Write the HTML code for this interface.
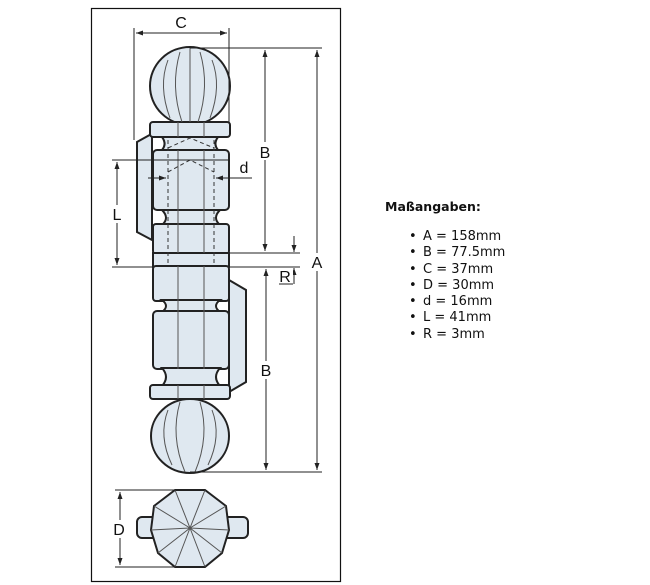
<!DOCTYPE html>
<html><head><meta charset="utf-8"><style>
body{margin:0;width:650px;height:585px;background:#fff;overflow:hidden;position:relative;font-family:"DejaVu Sans","Liberation Sans",sans-serif}
svg{position:absolute;left:0;top:0}
.t{position:absolute;left:385px;top:199px;font-size:12.5px;font-weight:bold;color:#111}
ul{position:absolute;left:409px;top:229px;margin:0;padding:0;list-style:none;font-size:13px;color:#111;line-height:16.3px}
li:before{content:"•";display:inline-block;width:14px}
</style></head><body>
<svg width="650" height="585" viewBox="0 0 650 585">
<defs><marker id="a" markerWidth="8" markerHeight="8" refX="7" refY="4" orient="auto-start-reverse" markerUnits="userSpaceOnUse"><path d="M0,1.5 L7,4 L0,6.5z" fill="#222"/></marker></defs>
<rect x="91.5" y="8.5" width="249" height="573" fill="#fff" stroke="#111" stroke-width="1.2"/>
<g fill="#dfe8f0" stroke="#222" stroke-width="2">
<path d="M155,132 L137,142 L137,232 L152,240 L152,132z"/>
<path d="M229,280 L246,290 L246,382 L229,392z"/>
<ellipse cx="190" cy="86" rx="40" ry="39"/>
<ellipse cx="190" cy="436" rx="39" ry="37"/>
<rect x="150" y="122" width="80" height="15" rx="3"/>
<path d="M162,137 Q168,145 160,152 L220,152 Q212,145 218,137z"/>
<rect x="153" y="150" width="76" height="60" rx="4"/>
<path d="M162,210 Q170,218 162,225 L220,225 Q212,218 220,210z"/>
<rect x="153" y="224" width="76" height="30" rx="3"/>
<rect x="153" y="253" width="76" height="14"/>
<rect x="153" y="266" width="76" height="35" rx="3"/>
<path d="M162,300 Q170,306 162,312 L220,312 Q212,306 220,300z"/>
<rect x="153" y="311" width="76" height="58" rx="4"/>
<path d="M162,368 Q170,377 162,386 L220,386 Q212,377 220,368z"/>
<rect x="150" y="385" width="80" height="14" rx="3"/>
<rect x="137" y="517" width="111" height="21" rx="5"/>
<polygon points="175,490 205,490 226,506 229,530 222,553 205,567 175,567 158,553 151,530 154,506"/>
</g>
<g stroke="#555" stroke-width="1" fill="none">
<path d="M180,52 Q170,86 182,122 M200,52 Q210,86 198,122 M168,60 Q158,86 170,118 M212,60 Q222,86 210,118 M190,48 L190,122"/>
<path d="M180,402 Q170,436 185,472 M200,402 Q210,436 195,472 M168,410 Q158,436 172,465 M212,410 Q222,436 208,465"/>
<path d="M178,150 V253 M204,150 V253 M178,266 V369 M204,266 V369 M178,385 V399 M204,385 V399 M178,122 V137 M204,122 V137"/>
<path d="M190,528 L175,490 M190,528 L205,490 M190,528 L226,506 M190,528 L229,530 M190,528 L222,553 M190,528 L205,567 M190,528 L175,567 M190,528 L158,553 M190,528 L151,530 M190,528 L154,506"/>
</g>
<g stroke="#333" stroke-width="1" fill="none" stroke-dasharray="4,3">
<path d="M168,140 V266 M214,140 V266 M168,172 L190,160 L214,172 M168,148 L190,138 L214,148"/>
</g>
<g stroke="#222" stroke-width="1" fill="none">
<line x1="134" y1="28" x2="134" y2="140"/><line x1="229" y1="28" x2="229" y2="122"/>
<line x1="136" y1="33" x2="227" y2="33" marker-start="url(#a)" marker-end="url(#a)"/>
<line x1="190" y1="48" x2="322" y2="48"/><line x1="229" y1="253" x2="300" y2="253"/>
<line x1="229" y1="267" x2="300" y2="267"/><line x1="190" y1="472" x2="322" y2="472"/>
<line x1="265" y1="50" x2="265" y2="251" marker-start="url(#a)" marker-end="url(#a)"/>
<line x1="266" y1="269" x2="266" y2="470" marker-start="url(#a)" marker-end="url(#a)"/>
<line x1="317" y1="50" x2="317" y2="470" marker-start="url(#a)" marker-end="url(#a)"/>
<line x1="294" y1="236" x2="294" y2="252" marker-end="url(#a)"/>
<line x1="294" y1="284" x2="294" y2="268" marker-end="url(#a)"/>
<line x1="112" y1="160" x2="230" y2="160"/><line x1="112" y1="267" x2="153" y2="267"/>
<line x1="117" y1="162" x2="117" y2="265" marker-start="url(#a)" marker-end="url(#a)"/>
<line x1="148" y1="178" x2="166" y2="178" marker-end="url(#a)"/>
<line x1="252" y1="178" x2="216" y2="178" marker-end="url(#a)"/>
<line x1="115" y1="490" x2="205" y2="490"/><line x1="115" y1="567" x2="205" y2="567"/>
<line x1="120" y1="492" x2="120" y2="565" marker-start="url(#a)" marker-end="url(#a)"/>
</g>
<rect x="278" y="268" width="15" height="16" fill="#fff"/>
<path d="M279,284 H293" stroke="#222" stroke-width="1"/>
<g font-family="Liberation Sans,sans-serif" font-size="16" fill="#111" text-anchor="middle">
<text x="181" y="28">C</text>
<rect x="257" y="142" width="17" height="18" fill="#fff"/><text x="265" y="158">B</text>
<rect x="258" y="361" width="17" height="18" fill="#fff"/><text x="266" y="376">B</text>
<rect x="309" y="253" width="17" height="18" fill="#fff"/><text x="317" y="268">A</text>
<rect x="110" y="205" width="14" height="18" fill="#fff"/><text x="117" y="220">L</text>
<text x="244" y="173">d</text>
<text x="285" y="282">R</text>
<rect x="112" y="520" width="16" height="18" fill="#fff"/><text x="119" y="535">D</text>
</g>
</svg>
<div class="t">Maßangaben:</div>
<ul><li>A = 158mm</li><li>B = 77.5mm</li><li>C = 37mm</li><li>D = 30mm</li><li>d = 16mm</li><li>L = 41mm</li><li>R = 3mm</li></ul>
</body></html>
